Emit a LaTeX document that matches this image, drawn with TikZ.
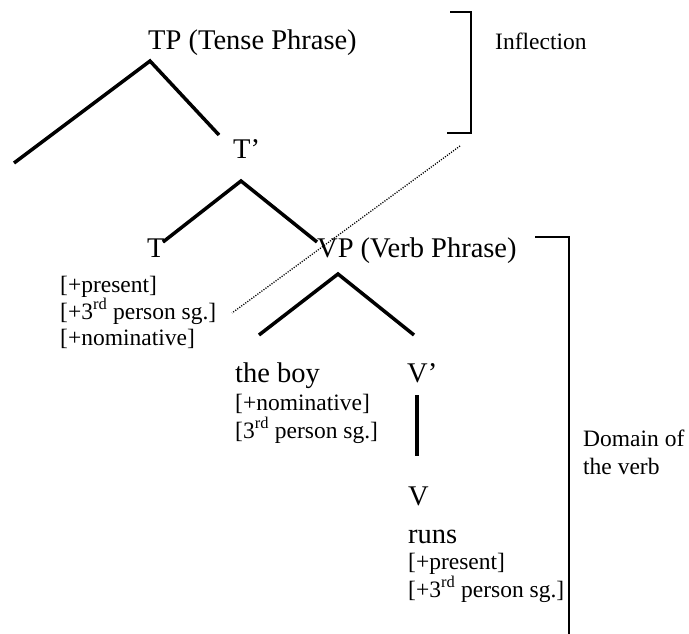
\documentclass[tikz,border=0pt]{standalone}
\usepackage{fontspec}
\setmainfont{Liberation Serif}
\begin{document}
\begin{tikzpicture}[x=1pt,y=-1pt,
  big/.style={font=\fontsize{28.5}{34}\selectfont, inner sep=0pt, anchor=base west},
  small/.style={font=\fontsize{23.5}{28}\selectfont, inner sep=0pt, anchor=base west},
  branch/.style={line width=3.5pt, line join=miter},
  bracket/.style={line width=1.8pt},
  link/.style={line width=1.3pt, dash pattern=on 1.1pt off 1.4pt}]
\useasboundingbox (0,0) rectangle (689,634);

% labels of the tree
\node[big] (tp) at (148,50) {TP (Tense Phrase)};
\node[big] (tbar) at (233,158) {T’};
\node[big] (t) at (147,257) {T};
\node[big] (vp) at (317,257) {VP (Verb Phrase)};
\node[big] (boy) at (235,382) {the boy};
\node[big] (vbar) at (407,382) {V’};
\node[big] (v) at (408,505) {V};
\node[big] (runs) at (408,543) {runs};

% feature bundles
\node[small] (tf1) at (60,292) {[+present]};
\node[small] (tf2) at (60,319) {[+3\textsuperscript{rd} person sg.]};
\node[small] (tf3) at (60,345) {[+nominative]};
\node[small] (bf1) at (235,410) {[+nominative]};
\node[small] (bf2) at (235,438) {[3\textsuperscript{rd} person sg.]};
\node[small] (vf1) at (408,569) {[+present]};
\node[small] (vf2) at (408,597) {[+3\textsuperscript{rd} person sg.]};

% side notes
\node[small] (infl) at (495,50) {Inflection};
\node[small] (dom1) at (583,446) {Domain of};
\node[small] (dom2) at (583,474) {the verb};

% branch points
\coordinate (tpA) at (150,61);
\coordinate (tpL) at (14,163);
\coordinate (tpR) at (219,135);
\coordinate (tbA) at (241,181);
\coordinate (tbL) at (163,242);
\coordinate (tbR) at (317,242);
\coordinate (vpA) at (338,274);
\coordinate (vpL) at (259,335);
\coordinate (vpR) at (414,335);
\coordinate (vbT) at (417,395);
\coordinate (vbB) at (417,456);

\draw[branch] (tpL) -- (tpA) -- (tpR);
\draw[branch] (tbL) -- (tbA) -- (tbR);
\draw[branch] (vpL) -- (vpA) -- (vpR);
\draw[branch] (vbT) -- (vbB);

% brackets
\coordinate (ib1) at (450,12);
\coordinate (ib2) at (471,12);
\coordinate (ib3) at (471,133);
\coordinate (ib4) at (447,133);
\draw[bracket] (ib1) -- (ib2) -- (ib3) -- (ib4);

\coordinate (db1) at (535,237);
\coordinate (db2) at (569,237);
\coordinate (db3) at (569,634);
\draw[bracket] (db1) -- (db2) -- (db3);

% dotted link from the inflection bracket
\coordinate (lk1) at (460,146);
\coordinate (lk2) at (232,313);
\draw[link] (lk1) -- (lk2);
\end{tikzpicture}
\end{document}
